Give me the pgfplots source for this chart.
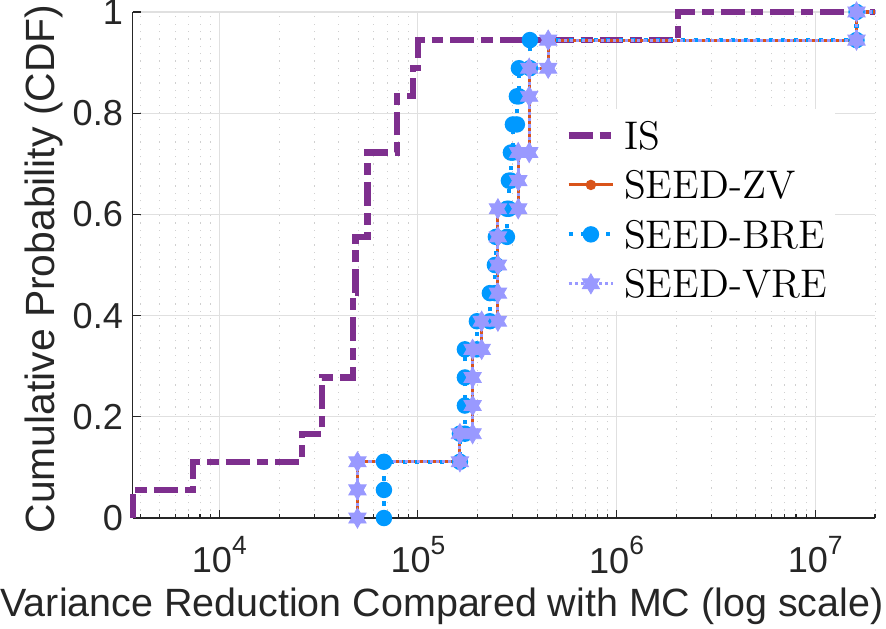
\documentclass[border=0pt]{standalone}
\usepackage{fontspec}
\setsansfont{Liberation Sans}
\usepackage{pgfplots}
\pgfplotsset{compat=1.18}

\definecolor{isc}{RGB}{126,47,142}
\definecolor{zvc}{RGB}{217,83,25}
\definecolor{brec}{RGB}{0,153,255}
\definecolor{vrec}{RGB}{153,153,255}
\definecolor{axc}{RGB}{38,38,38}
\definecolor{gridmaj}{RGB}{224,224,224}
\definecolor{gridmin}{RGB}{208,208,208}

% six-pointed star (two overlapping triangles)
\pgfdeclareplotmark{hexagram}{%
  \pgfmathsetlengthmacro\hexR{\pgfplotmarksize}%
  \pgfmathsetlengthmacro\hexr{0.57735*\pgfplotmarksize}%
  \pgfpathmoveto{\pgfpointpolar{90}{\hexR}}%
  \pgfpathlineto{\pgfpointpolar{120}{\hexr}}%
  \pgfpathlineto{\pgfpointpolar{150}{\hexR}}%
  \pgfpathlineto{\pgfpointpolar{180}{\hexr}}%
  \pgfpathlineto{\pgfpointpolar{210}{\hexR}}%
  \pgfpathlineto{\pgfpointpolar{240}{\hexr}}%
  \pgfpathlineto{\pgfpointpolar{270}{\hexR}}%
  \pgfpathlineto{\pgfpointpolar{300}{\hexr}}%
  \pgfpathlineto{\pgfpointpolar{330}{\hexR}}%
  \pgfpathlineto{\pgfpointpolar{0}{\hexr}}%
  \pgfpathlineto{\pgfpointpolar{30}{\hexR}}%
  \pgfpathlineto{\pgfpointpolar{60}{\hexr}}%
  \pgfpathclose
  \pgfusepathqfillstroke
}

\newcommand{\pw}[1]{10\raisebox{6.8pt}{\fontsize{9.5}{10}\selectfont #1}}

\begin{document}
\begin{tikzpicture}
\begin{axis}[
  name=ax,
  scale only axis, width=267.2pt, height=182.16pt,
  xmode=log, log basis x=10,
  xmin=3666, xmax=2e7, ymin=0, ymax=1,
  clip=false,
  axis x line*=bottom, axis y line*=left,
  xtick={1e4,1e5,1e6,1e7},
  xticklabels={\pw{4},\pw{5},\pw{6},\pw{7}},
  minor xtick={4000,5000,6000,7000,8000,9000,
    2e4,3e4,4e4,5e4,6e4,7e4,8e4,9e4,
    2e5,3e5,4e5,5e5,6e5,7e5,8e5,9e5,
    2e6,3e6,4e6,5e6,6e6,7e6,8e6,9e6,2e7},
  ytick={0,0.2,0.4,0.6,0.8,1},
  xmajorgrids, ymajorgrids, xminorgrids,
  major grid style={line width=0.4pt, draw=gridmaj},
  minor grid style={line width=0.35pt, draw=gridmin, dash pattern=on 0.45pt off 2.2pt},
  tick align=inside,
  major tick length=2.9pt, minor tick length=1.5pt,
  tick style={draw=axc, line width=0.4pt},
  axis line style={draw=axc, line width=0.5pt},
  /pgf/number format/assume math mode=true,
  ticklabel style={font=\sffamily\fontsize{13}{15}\selectfont, text=axc},
  xticklabel style={yshift=-2.9pt},
  xlabel={Variance Reduction Compared with MC (log scale)},
  ylabel={Cumulative Probability (CDF)},
  xlabel style={font=\sffamily\fontsize{14.2}{17}\selectfont, text=axc,
    at={(axis description cs:0.4167,0)}, anchor=base, yshift=-35.6pt},
  ylabel style={font=\sffamily\fontsize{14.7}{17}\selectfont, text=axc,
    at={(axis description cs:-0.1047,0.492)}, anchor=base},
  legend style={
    at={(axis description cs:0.5716,0.8103)}, anchor=north west,
    draw=none, fill=white,
    inner xsep=2.9pt, inner ysep=4.7pt,
    row sep=7.8pt, column sep=2.9pt,
    font=\fontsize{14.4}{17}\selectfont,
    nodes={inner sep=0pt, text height=10pt, text depth=0pt},
  },
  legend cell align=left,
  legend image code/.code={%
    \draw[mark repeat=2,mark phase=2,#1] plot coordinates {(0pt,0pt) (8pt,0pt) (16pt,0pt)};},
]

% IS
\addplot[isc, line width=2.2pt, dash pattern=on 8.6pt off 2.5pt on 4.3pt off 2.5pt] coordinates {
  (3666,0) (3666,0.05556) (7396,0.05556) (7396,0.11111)
  (25980,0.11111) (25980,0.16667) (32760,0.16667) (32760,0.27778)
  (47240,0.27778) (47240,0.44444) (48500,0.44444) (48500,0.55556)
  (55700,0.55556) (55700,0.72222) (78140,0.72222) (78140,0.83333)
  (94700,0.83333) (94700,0.88889) (100350,0.88889) (100350,0.94444)
  (2042000,0.94444) (2042000,1) (2e7,1)
};
\addlegendentry{IS}

% SEED-ZV
\addplot[zvc, line width=1.1pt, mark=*, mark size=1.3pt, mark options={solid, fill=zvc}] coordinates {
  (49600,0) (49600,0.05556) (49600,0.11111) (162700,0.11111) (162700,0.16667)
  (188500,0.16667) (188500,0.22222) (188500,0.27778) (188500,0.33333)
  (209300,0.33333) (209300,0.38889) (252700,0.38889) (252700,0.44444)
  (252700,0.5) (252700,0.55556) (252700,0.61111) (319800,0.61111)
  (319800,0.66667) (319800,0.72222) (363200,0.72222) (363200,0.83333)
  (363200,0.88889) (452600,0.88889) (452600,0.94444) (16140000,0.94444) (16140000,1)
};
\addlegendentry{SEED-ZV}
\addplot[zvc, line width=1.1pt, forget plot] coordinates {(16140000,1) (2e7,1)};

% SEED-BRE
\addplot[brec, line width=1.5pt, dash pattern=on 1.5pt off 3pt, mark=*, mark size=2.2pt, mark options={solid, fill=brec}] coordinates {
  (67440,0) (67440,0.05556) (67440,0.11111) (162700,0.11111) (162700,0.16667)
  (172400,0.16667) (172400,0.22222) (172400,0.27778) (172400,0.33333)
  (198100,0.33333) (198100,0.38889) (230300,0.38889) (230300,0.44444)
  (244100,0.44444) (244100,0.5) (246900,0.5) (246900,0.55556)
  (280500,0.55556) (280500,0.61111) (287100,0.61111) (287100,0.66667)
  (293800,0.66667) (293800,0.72222) (300700,0.72222) (300700,0.77778)
  (314900,0.77778) (314900,0.83333) (322300,0.83333) (322300,0.88889)
  (366200,0.88889) (366200,0.94444) (16140000,0.94444) (16140000,1)
};
\addlegendentry{SEED-BRE}
\addplot[brec, line width=1.5pt, dash pattern=on 1.5pt off 3pt, forget plot] coordinates {(16140000,1) (2e7,1)};

% SEED-VRE
\addplot[vrec, line width=1.1pt, dash pattern=on 1.1pt off 1.1pt, mark=hexagram, mark size=3.6pt, mark options={solid, fill=vrec, line width=0.3pt}] coordinates {
  (49600,0) (49600,0.05556) (49600,0.11111) (162700,0.11111) (162700,0.16667)
  (188500,0.16667) (188500,0.22222) (188500,0.27778) (188500,0.33333)
  (209300,0.33333) (209300,0.38889) (252700,0.38889) (252700,0.44444)
  (252700,0.5) (252700,0.55556) (252700,0.61111) (319800,0.61111)
  (319800,0.66667) (319800,0.72222) (363200,0.72222) (363200,0.83333)
  (363200,0.88889) (452600,0.88889) (452600,0.94444) (16140000,0.94444) (16140000,1)
};
\addlegendentry{SEED-VRE}
\addplot[vrec, line width=1.1pt, dash pattern=on 1.1pt off 1.1pt, forget plot] coordinates {(16140000,1) (2e7,1)};

\end{axis}
\pgfresetboundingbox
\path[use as bounding box] ([xshift=-47.77pt,yshift=-39.6pt]ax.south west) rectangle ([xshift=3.96pt,yshift=4.32pt]ax.north east);
\end{tikzpicture}
\end{document}
